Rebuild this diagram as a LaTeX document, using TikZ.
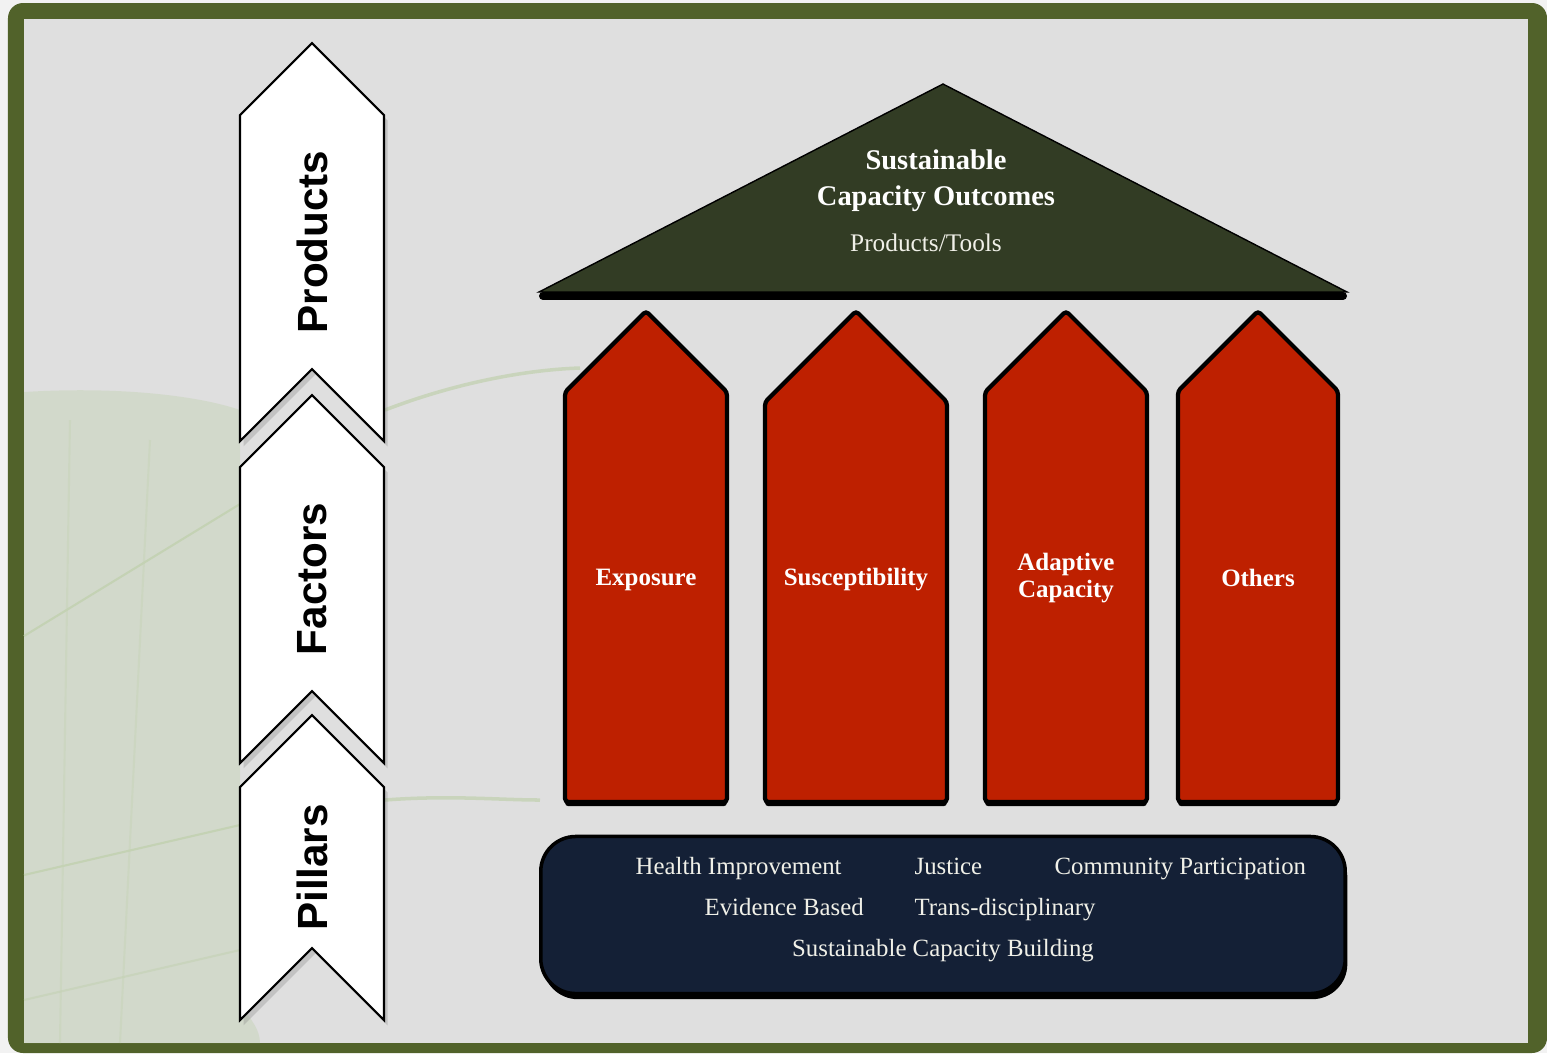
\documentclass[tikz,border=0pt]{standalone}
\usepackage{fontspec}
\setmainfont{Liberation Serif}
\setsansfont{Liberation Sans}
\usetikzlibrary{shadows}

\definecolor{framegreen}{RGB}{81,98,42}
\definecolor{bggray}{RGB}{223,223,223}
\definecolor{roofgreen}{RGB}{50,60,36}
\definecolor{pillarred}{RGB}{190,32,0}
\definecolor{basenavy}{RGB}{20,32,54}
\definecolor{leafgreen}{RGB}{196,210,180}
\definecolor{paletext}{RGB}{240,240,232}

\begin{document}
\begin{tikzpicture}[x=0.01cm, y=-0.01cm,
    chev/.style={fill=white, draw=black, line width=0.6pt,
        drop shadow={opacity=0.3, shadow xshift=1pt, shadow yshift=-1.5pt}},
    chevlabel/.style={font=\sffamily\bfseries\fontsize{12}{14}\selectfont, rotate=90, inner sep=0},
    pillar/.style={fill=pillarred, draw=black, line width=1.2pt, rounded corners=1pt,
        drop shadow={opacity=1, fill=black, shadow xshift=0pt, shadow yshift=-1.2pt}},
    pillarlabel/.style={text=white, font=\bfseries\fontsize{7.1}{7.7}\selectfont, align=center},
    basetext/.style={text=paletext, font=\fontsize{7.05}{8}\selectfont, inner sep=0, anchor=base west},
    vein/.style={leafgreen, line width=0.6pt}]

    \useasboundingbox (0,0) rectangle (1547,1053);
    \fill[white!90!gray] (0,0) rectangle (1547,1053);

    % frame
    \fill[framegreen, rounded corners=0.15cm] (8,3) rectangle (1547,1053);
    \fill[bggray] (24,19) rectangle (1528,1043);

    % leaf in the background
    \fill[leafgreen, opacity=0.45] (24,392) .. controls (120,386) and (200,396) .. (240,410)
        -- (240,1005) .. controls (252,1020) and (260,1030) .. (260,1043) -- (24,1043) -- cycle;
    \draw[vein] (24,636) -- (240,504);
    \draw[vein] (24,875) -- (240,825);
    \draw[vein, opacity=0.6] (24,1000) -- (240,950);
    \draw[vein, opacity=0.4] (70,420) -- (60,1043);
    \draw[vein, opacity=0.4] (150,440) -- (120,1043);
    \draw[vein, line width=1pt, opacity=0.8] (385,410) .. controls (450,385) and (520,370) .. (580,368);
    \draw[vein, line width=1pt, opacity=0.8] (385,800) .. controls (450,795) and (500,800) .. (540,800);

    % left chevrons
    \foreach \name/\ya/\yb [count=\i] in {Products/43/441, Factors/395/763, Pillars/715/1020}
    {
        \path[chev] (240, \ya+72) -- (312, \ya) -- (384, \ya+72) -- (384, \yb)
            -- (312, \yb-72) -- (240, \yb) -- cycle;
        \node[chevlabel] (lbl\i) at (312, {(\ya+\yb)/2}) {\name};
    }

    % roof
    \fill[roofgreen, draw=black, line width=0.4pt] (539,292) -- (943,84) -- (1347,292) -- cycle;
    \draw[line width=0.08cm, line cap=round] (543,296) -- (1343,296);
    \node[text=white, font=\bfseries\fontsize{8.1}{10.2}\selectfont, align=center] (roof) at (936,181)
        {Sustainable\\Capacity Outcomes};
    \node[text=paletext, font=\fontsize{7.2}{8}\selectfont] (tools) at (926,243) {Products/Tools};

    % pillars
    \foreach \cx/\hw/\txt/\ty [count=\i] in {646/81/Exposure/580, 856/91/Susceptibility/580,
        1066/81/{Adaptive\\Capacity}/578, 1258/80/Others/578}
    {
        \path[pillar] (\cx-\hw, 802) -- (\cx-\hw, 311+\hw) -- (\cx, 311)
            -- (\cx+\hw, 311+\hw) -- (\cx+\hw, 802) -- cycle;
        \node[pillarlabel] (p\i) at (\cx, \ty) {\txt};
    }

    % base
    \node[fill=basenavy, draw=black, line width=1pt, rounded corners=0.35cm,
        minimum width=8.04cm, minimum height=1.57cm,
        drop shadow={opacity=1, fill=black, shadow xshift=0.6pt, shadow yshift=-1.6pt}] (base) at (943,915) {};
    \node[basetext] (b1) at (635,874) {Health Improvement};
    \node[basetext] (b2) at (914,874) {Justice};
    \node[basetext] (b3) at (1054,874) {Community Participation};
    \node[basetext] (b4) at (704,915) {Evidence Based};
    \node[basetext] (b5) at (914,915) {Trans-disciplinary};
    \node[basetext, anchor=base] (b6) at (943,956) {Sustainable Capacity Building};
\end{tikzpicture}
\end{document}
